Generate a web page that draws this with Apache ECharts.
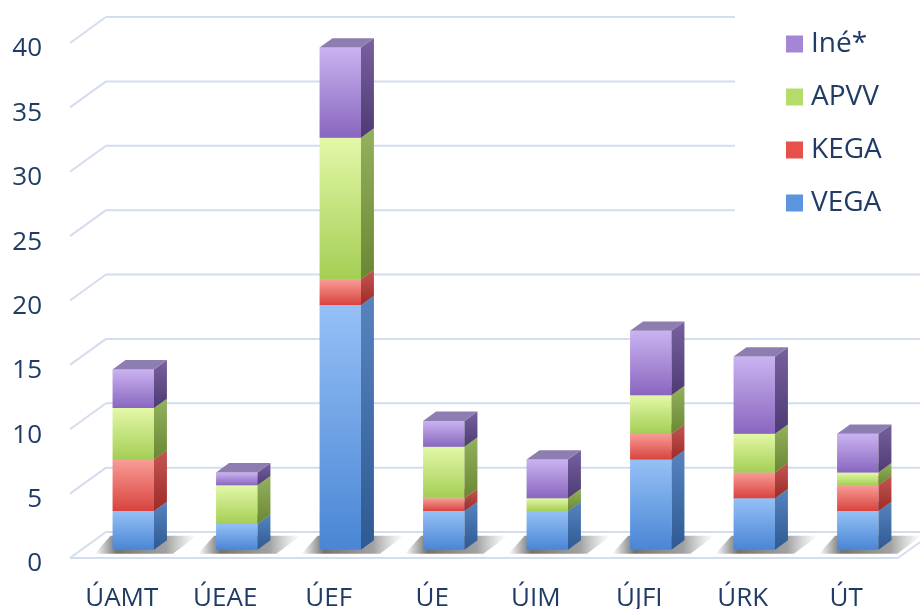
<!DOCTYPE html>
<html>
<head>
<meta charset="utf-8">
<script src="https://cdn.jsdelivr.net/npm/echarts@6/dist/echarts.min.js"></script>
<style>
  html, body { margin: 0; padding: 0; background: #fff; }
  #chart { width: 920px; height: 609px; }
</style>
</head>
<body>
<div id="chart"></div>
<script>
// Research projects per institute, split by funding agency
const categories = ['ÚAMT', 'ÚEAE', 'ÚEF', 'ÚE', 'ÚIM', 'ÚJFI', 'ÚRK', 'ÚT'];
const vega = [3, 2, 19, 3, 3, 7, 4, 3];
const kega = [4, 0, 2, 1, 0, 2, 2, 2];
const apvv = [4, 3, 11, 4, 1, 3, 3, 1];
const ine  = [3, 1, 7, 2, 3, 5, 6, 3];
const yTicks = [0, 5, 10, 15, 20, 25, 30, 35, 40];

const TEXT = '#1f3b66';
const FONT = '"Open Sans", sans-serif';
const GRIDLINE = '#d3ddee';
// pseudo-3D depth of the floor (pixels) and where the bars sit inside it
const DEPTH = [36, -26];
const F_FRONT = 0.32, F_BACK = 0.68;
const BAR_RATIO = 0.4;

const stacks = [
  { name: 'VEGA', values: vega, legend: '#5b95e0',
    front: ['#95c0f6', '#4a86d5'], side: ['#5784bf', '#2e5a93'], top: '#7397cc' },
  { name: 'KEGA', values: kega, legend: '#e8504c',
    front: ['#f99c97', '#d8433e'], side: ['#c45652', '#9d2b28'], top: '#cf7f7b' },
  { name: 'APVV', values: apvv, legend: '#b5dc6a',
    front: ['#e3f8a8', '#a4ce54'], side: ['#94b15d', '#6a8833'], top: '#aec57d' },
  { name: 'Iné*', values: ine, legend: '#a486d6',
    front: ['#cab3f1', '#8966bf'], side: ['#77619f', '#4e3b73'], top: '#8e7db1' }
];

// cumulative bases for stacking
const base = categories.map(() => 0);
stacks.forEach(s => {
  s.data = s.values.map((v, i) => {
    const lo = base[i];
    base[i] += v;
    return [i, lo, base[i]];
  });
});
const totals = base.slice();

function vgrad(c) {
  return new echarts.graphic.LinearGradient(0, 0, 0, 1, [
    { offset: 0, color: c[0] }, { offset: 1, color: c[1] }
  ]);
}

function barRenderer(s) {
  return function (params, api) {
    const idx = api.value(0), lo = api.value(1), hi = api.value(2);
    if (hi <= lo) return null;
    const pLo = api.coord([idx, lo]);
    const pHi = api.coord([idx, hi]);
    const w = api.size([1, 0])[0] * BAR_RATIO;
    const fx = DEPTH[0] * F_FRONT, fy = DEPTH[1] * F_FRONT;
    const sx = DEPTH[0] * (F_BACK - F_FRONT), sy = DEPTH[1] * (F_BACK - F_FRONT);
    const x0 = pLo[0] - w / 2 + fx, x1 = x0 + w;
    const yb = pLo[1] + fy, yt = pHi[1] + fy;
    return {
      type: 'group',
      children: [
        { type: 'rect', shape: { x: x0, y: yt, width: w, height: yb - yt },
          style: { fill: vgrad(s.front) } },
        { type: 'polygon',
          shape: { points: [[x1, yb], [x1 + sx, yb + sy], [x1 + sx, yt + sy], [x1, yt]] },
          style: { fill: vgrad(s.side) } },
        { type: 'polygon',
          shape: { points: [[x0, yt], [x1, yt], [x1 + sx, yt + sy], [x0 + sx, yt + sy]] },
          style: { fill: s.top } }
      ]
    };
  };
}

function shadowRenderer(params, api) {
  const idx = api.value(0);
  const p = api.coord([idx, 0]);
  const w = api.size([1, 0])[0] * BAR_RATIO;
  const fx = DEPTH[0] * F_FRONT, fy = DEPTH[1] * F_FRONT;
  const sx = DEPTH[0] * (F_BACK - F_FRONT);
  const x0 = p[0] - w / 2 + fx, x1 = x0 + w;
  const yb = p[1] + fy;
  return {
    type: 'polygon',
    shape: { points: [[x0 - 18, yb + 4], [x1 + sx + 6, yb + 4], [x1 + sx + 30, yb - 14], [x0 - 2, yb - 14]] },
    style: {
      fill: new echarts.graphic.LinearGradient(0, 0, 1, 0, [
        { offset: 0, color: 'rgba(80,80,80,0)' },
        { offset: 0.22, color: 'rgba(80,80,80,0.8)' },
        { offset: 0.7, color: 'rgba(100,100,100,0.6)' },
        { offset: 1, color: 'rgba(150,150,150,0)' }
      ])
    }
  };
}

function gridRenderer(params, api) {
  const v = api.value(1);
  const cs = params.coordSys;
  const y = api.coord([0, v])[1];
  const gx = cs.x, gw = cs.width;
  const style = { stroke: GRIDLINE, lineWidth: 2, fill: null };
  const children = [
    { type: 'line', shape: { x1: gx, y1: y, x2: gx + DEPTH[0], y2: y + DEPTH[1] }, style },
    { type: 'line', shape: { x1: gx + DEPTH[0], y1: y + DEPTH[1], x2: gx + gw + DEPTH[0], y2: y + DEPTH[1] }, style }
  ];
  if (v === 0) {
    children.push(
      { type: 'line', shape: { x1: gx, y1: y, x2: gx + gw, y2: y }, style },
      { type: 'line', shape: { x1: gx + gw, y1: y, x2: gx + gw + DEPTH[0], y2: y + DEPTH[1] }, style }
    );
  }
  return { type: 'group', children };
}

const series = [
  { type: 'custom', name: 'grid', renderItem: gridRenderer, silent: true, z: 1,
    data: yTicks.map(v => [0, v]), encode: { x: 0, y: 1 } },
  { type: 'custom', name: 'shadow', renderItem: shadowRenderer, silent: true, z: 1,
    data: totals.map((t, i) => [i, t]), encode: { x: 0, y: 1 } }
].concat(stacks.map(s => ({
  type: 'custom',
  name: s.name,
  renderItem: barRenderer(s),
  itemStyle: { color: s.legend },
  data: s.data,
  encode: { x: 0, y: 2 },
  z: 2
})));

const chart = echarts.init(document.getElementById('chart'), null, { renderer: 'canvas' });
chart.setOption({
  animation: false,
  backgroundColor: '#fff',
  grid: { left: 70, right: 22, top: 43, bottom: 51, containLabel: false, outerBoundsMode: 'none' },
  legend: {
    data: ['Iné*', 'APVV', 'KEGA', 'VEGA'],
    orient: 'vertical',
    left: 735,
    top: 0,
    padding: [30, 40, 24, 51],
    backgroundColor: '#fff',
    itemWidth: 17,
    itemHeight: 17,
    itemGap: 25,
    icon: 'rect',
    textStyle: { color: TEXT, fontFamily: FONT, fontSize: 28, lineHeight: 28, padding: [0, 0, 0, 3] }
  },
  xAxis: {
    type: 'category',
    data: categories,
    axisLine: { show: false },
    axisTick: { show: false },
    axisLabel: { color: TEXT, fontFamily: FONT, fontSize: 26, margin: 28 }
  },
  yAxis: {
    type: 'value',
    min: 0,
    max: 40,
    interval: 5,
    axisLine: { show: false },
    axisTick: { show: false },
    splitLine: { show: false },
    axisLabel: { color: TEXT, fontFamily: FONT, fontSize: 26, margin: 28,
      verticalAlign: 'top', lineHeight: 12 }
  },
  series
});
</script>
</body>
</html>
